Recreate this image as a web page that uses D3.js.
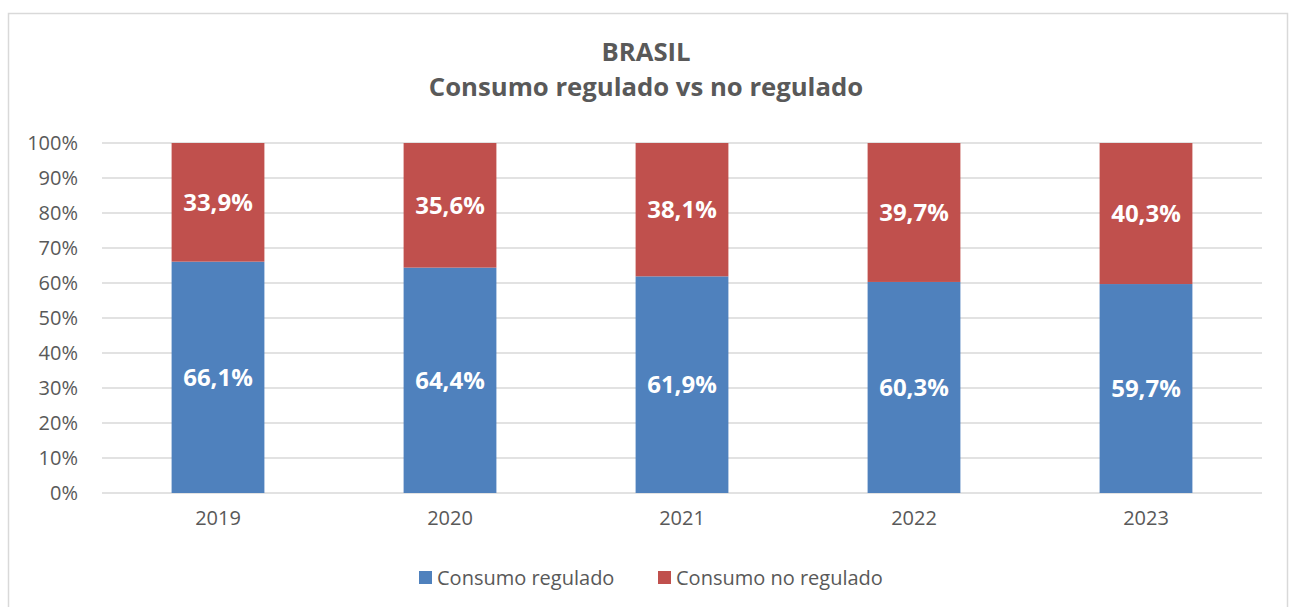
<!DOCTYPE html>
<html>
<head>
<meta charset="utf-8">
<script src="https://cdn.jsdelivr.net/npm/d3@7"></script>
<style>
  body { margin: 0; background: #fff; }
  svg { display: block; font-family: "Open Sans", sans-serif; }
</style>
</head>
<body>
<svg width="1292" height="607"></svg>
<script>
var years = ["2019", "2020", "2021", "2022", "2023"];
var regulado = [66.1, 64.4, 61.9, 60.3, 59.7];
var noRegulado = [33.9, 35.6, 38.1, 39.7, 40.3];
var seriesNames = ["Consumo regulado", "Consumo no regulado"];
var seriesColors = ["#4F81BD", "#C0504D"];
var yTicks = [0, 10, 20, 30, 40, 50, 60, 70, 80, 90, 100];
var titleLines = ["BRASIL", "Consumo regulado vs no regulado"];

var svg = d3.select("svg");
var textColor = "#595959";

// chart frame
svg.append("rect")
  .attr("x", 8.5).attr("y", 13.5)
  .attr("width", 1279).attr("height", 620)
  .attr("fill", "none")
  .attr("stroke", "#D9D9D9")
  .attr("stroke-width", 1.5);

var x = d3.scaleBand()
  .domain(years)
  .range([102, 1262])
  .paddingInner(0.6)
  .paddingOuter(0.3);

var y = d3.scaleLinear().domain([0, 100]).range([493, 143]);

// gridlines
svg.append("g").selectAll("line")
  .data(yTicks)
  .enter().append("line")
  .attr("x1", 102).attr("x2", 1262)
  .attr("y1", function(d) { return y(d); })
  .attr("y2", function(d) { return y(d); })
  .attr("stroke", "#D9D9D9")
  .attr("stroke-width", 1.5);

// y axis labels
var yAxis = d3.axisLeft(y).tickValues(yTicks).tickSize(0).tickPadding(0)
  .tickFormat(function(d) { return d + "%"; });
var yG = svg.append("g").attr("transform", "translate(78,0)").call(yAxis);
yG.select(".domain").remove();
yG.selectAll("text").attr("fill", textColor).style("font-size", "20px")
  .style("font-family", "'Open Sans', sans-serif");

// x axis labels
var xAxis = d3.axisBottom(x).tickSize(0).tickPadding(0);
var xG = svg.append("g").attr("transform", "translate(0,511)").call(xAxis);
xG.select(".domain").remove();
xG.selectAll("text").attr("fill", textColor).style("font-size", "20px")
  .style("font-family", "'Open Sans', sans-serif");

// stacked bars
var rows = years.map(function(yr, i) {
  return { year: yr, reg: regulado[i], noreg: noRegulado[i] };
});
var stack = d3.stack().keys(["reg", "noreg"]);
var layers = stack(rows);

var layerG = svg.append("g").selectAll("g")
  .data(layers)
  .enter().append("g")
  .attr("fill", function(d, i) { return seriesColors[i]; });

layerG.selectAll("rect")
  .data(function(d) { return d; })
  .enter().append("rect")
  .attr("x", function(d) { return x(d.data.year); })
  .attr("width", x.bandwidth())
  .attr("y", function(d) { return y(d[1]); })
  .attr("height", function(d) { return y(d[0]) - y(d[1]); });

layerG.selectAll("text")
  .data(function(d) { return d; })
  .enter().append("text")
  .attr("x", function(d) { return x(d.data.year) + x.bandwidth() / 2; })
  .attr("y", function(d) { return y((d[0] + d[1]) / 2); })
  .attr("dy", "0.36em")
  .attr("text-anchor", "middle")
  .attr("fill", "#fff")
  .style("font-size", "24px")
  .style("font-weight", "bold")
  .text(function(d) { return d3.format(".1f")(d[1] - d[0]).replace(".", ",") + "%"; });

// title
svg.append("g").selectAll("text")
  .data(titleLines)
  .enter().append("text")
  .attr("x", 646)
  .attr("y", function(d, i) { return 61 + i * 35; })
  .attr("text-anchor", "middle")
  .attr("fill", textColor)
  .style("font-size", "25.7px")
  .style("font-weight", "bold")
  .text(function(d) { return d; });

// legend
var legendX = [419, 658];
var legend = svg.append("g").selectAll("g")
  .data(seriesNames)
  .enter().append("g")
  .attr("transform", function(d, i) { return "translate(" + legendX[i] + ",571)"; });
legend.append("rect")
  .attr("width", 13).attr("height", 13)
  .attr("fill", function(d, i) { return seriesColors[i]; });
legend.append("text")
  .attr("x", 18).attr("y", 6.5).attr("dy", "0.36em")
  .attr("fill", textColor)
  .style("font-size", "20px")
  .text(function(d) { return d; });
</script>
</body>
</html>
